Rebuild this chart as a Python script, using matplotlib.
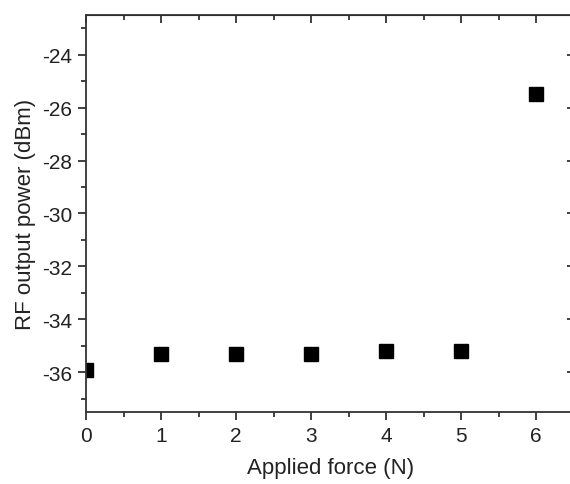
import numpy as np
import matplotlib
matplotlib.use("Agg")
from matplotlib import pyplot as plt
from matplotlib.ticker import MultipleLocator

# applied force (N) and measured RF output power (dBm)
force = [0, 1, 2, 3, 4, 5, 6]
rf_power = [-35.9, -35.3, -35.3, -35.3, -35.2, -35.2, -25.5]

plt.rcParams["font.family"] = ["Liberation Sans", "DejaVu Sans"]
plt.rcParams["font.size"] = 15
plt.rcParams["axes.unicode_minus"] = False

fig = plt.figure(figsize=(5.7, 4.85), dpi=100)
ax = fig.add_axes([0.151, 0.1485, 0.858, 0.8185])

ax.plot(force, rf_power, linestyle="none", marker="s", markersize=10,
        color="black")

ax.set_xlim(0, 6.52)
ax.set_ylim(-37.5, -22.5)
ax.xaxis.set_major_locator(MultipleLocator(1))
ax.xaxis.set_minor_locator(MultipleLocator(0.5))
ax.yaxis.set_major_locator(MultipleLocator(2))
ax.yaxis.set_minor_locator(MultipleLocator(1))

for side in ax.spines.values():
    side.set_linewidth(1.3)
    side.set_color("#333333")

ax.tick_params(which="both", direction="out", top=False, right=False,
               width=1.3, color="#333333", labelcolor="#222222")
ax.tick_params(which="major", length=6, pad=4)
ax.tick_params(which="minor", length=3.5)

# inward ticks on top and right, no labels
top = ax.secondary_xaxis("top")
top.set_xticks(np.arange(0, 7, 1))
top.xaxis.set_minor_locator(MultipleLocator(0.5))
top.tick_params(which="both", direction="in", labeltop=False, width=1.3,
                color="#333333")
top.tick_params(which="major", length=6)
top.tick_params(which="minor", length=3.5)
right = ax.secondary_yaxis("right")
right.yaxis.set_major_locator(MultipleLocator(2))
right.yaxis.set_minor_locator(MultipleLocator(1))
right.tick_params(which="both", direction="in", labelright=False, width=1.3,
                  color="#333333")
right.tick_params(which="major", length=6)
right.tick_params(which="minor", length=3.5)

ax.set_xlabel("Applied force (N)", color="#222222", fontsize=16, labelpad=9)
ax.set_ylabel("RF output power (dBm)", color="#222222", fontsize=16,
              labelpad=4)

fig.savefig("out.png", dpi=100)
